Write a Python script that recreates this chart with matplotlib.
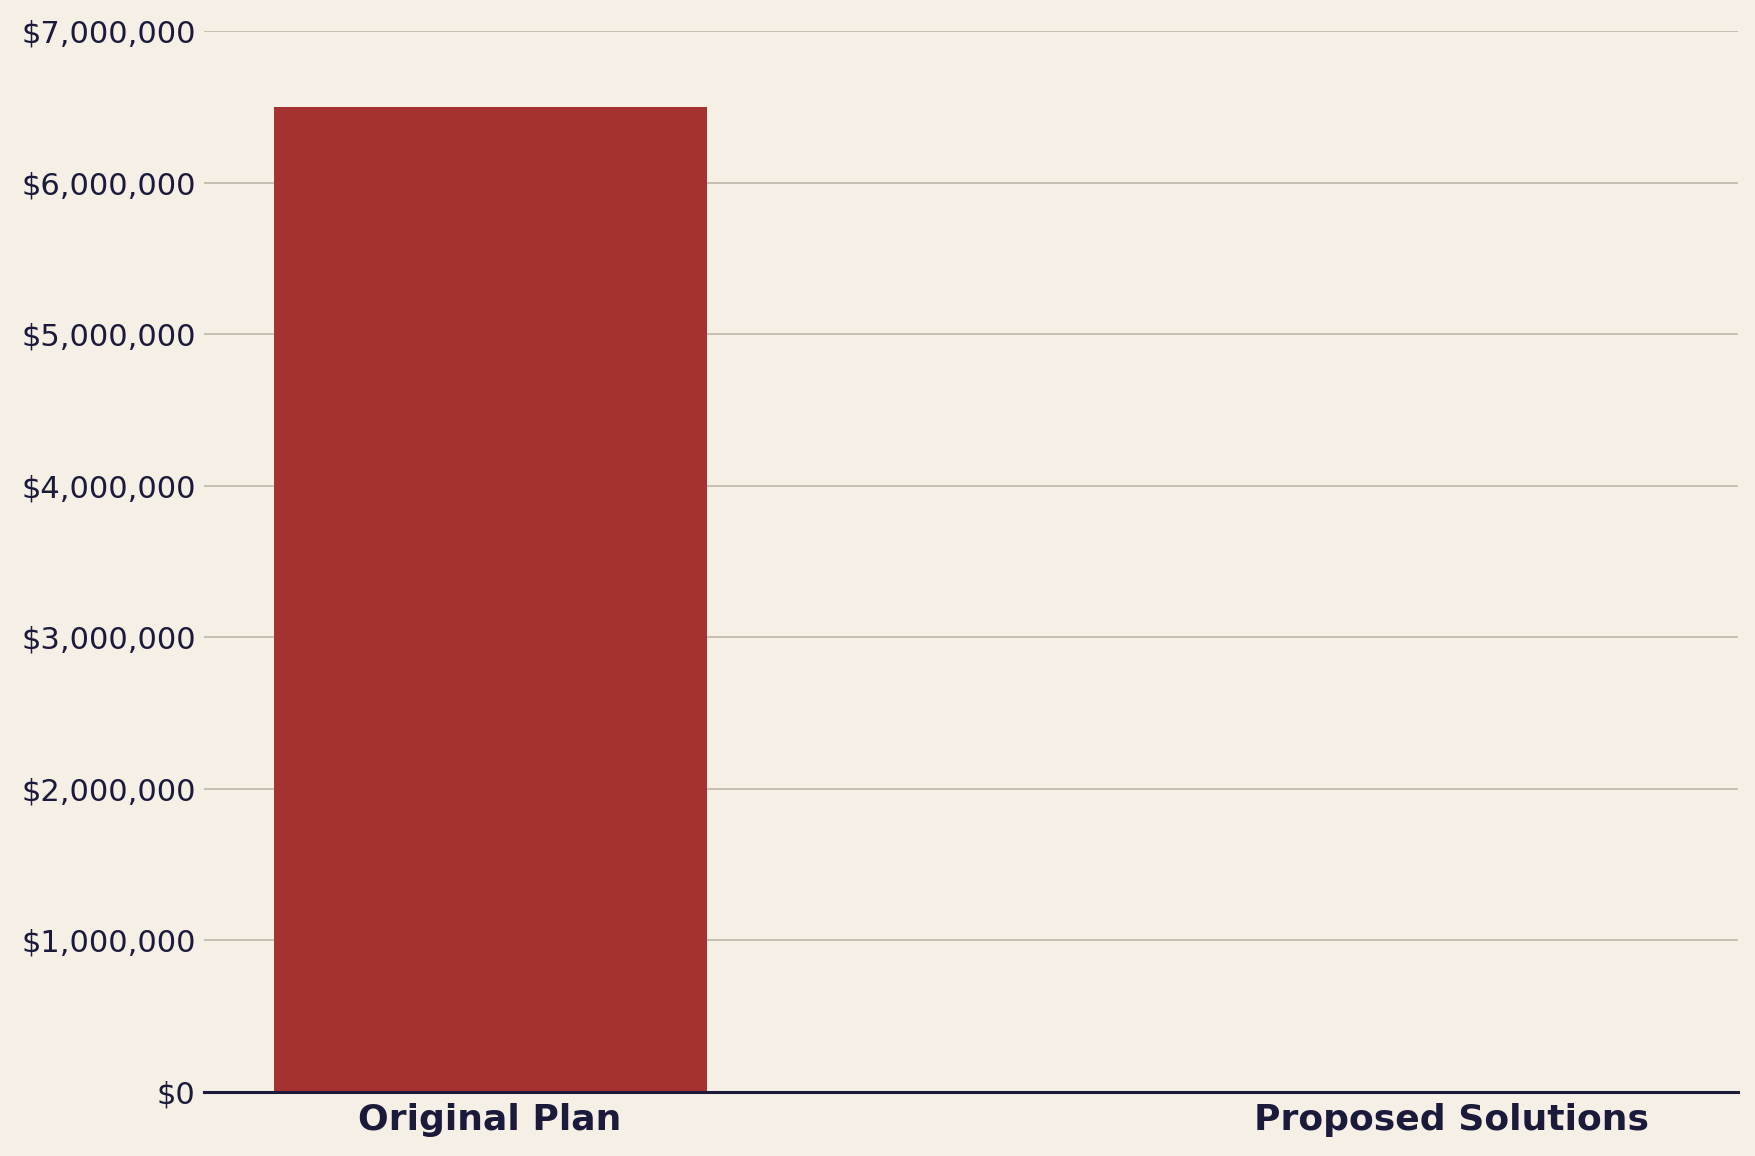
import matplotlib
matplotlib.use("Agg")
import matplotlib.pyplot as plt
from matplotlib.ticker import FuncFormatter

# data
categories = ["Original Plan", "Proposed Solutions"]
costs = [6500000, 0]
bar_colors = ["#a63131", "#a63131"]

bg = "#f5efe6"
ink = "#1b1a3a"

fig = plt.figure(figsize=(17.56, 11.56), dpi=100, facecolor=bg)
ax = fig.add_axes([0.1162, 0.0554, 0.8735, 0.9178])
ax.set_facecolor(bg)

ax.bar(categories, costs, width=0.45, color=bar_colors, zorder=3)

ax.set_ylim(0, 7000000)
ax.set_yticks(range(0, 7000001, 1000000))
ax.yaxis.set_major_formatter(FuncFormatter(lambda v, p: f"${v:,.0f}"))
ax.grid(axis="y", color="#b9b8a8", linewidth=1.2, zorder=0)
ax.set_axisbelow(True)

for s in ["top", "right", "left"]:
    ax.spines[s].set_visible(False)
ax.spines["bottom"].set_color(ink)
ax.spines["bottom"].set_linewidth(2.2)
ax.spines["bottom"].set_zorder(4)

ax.tick_params(axis="y", length=0, pad=6, labelsize=22, labelcolor=ink)
ax.tick_params(axis="x", length=0, pad=8, labelsize=26, labelcolor=ink)
for lbl in ax.get_xticklabels():
    lbl.set_fontweight("bold")

fig.savefig("out.png", dpi=100, facecolor=bg)
